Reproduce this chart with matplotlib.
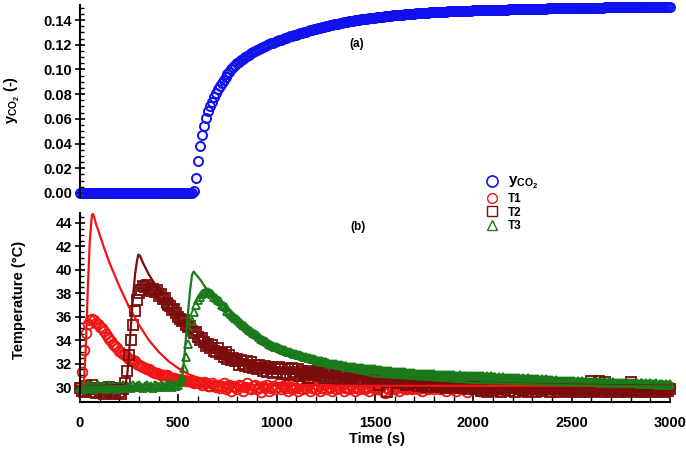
import numpy as np
import matplotlib
matplotlib.use('Agg')
import matplotlib.pyplot as plt
from matplotlib.ticker import MultipleLocator, FormatStrFormatter
from matplotlib.lines import Line2D

plt.rcParams['font.family'] = ['Liberation Sans', 'DejaVu Sans']
plt.rcParams['font.weight'] = 'bold'
plt.rcParams['mathtext.fontset'] = 'custom'
plt.rcParams['mathtext.rm'] = 'Liberation Sans:bold'
plt.rcParams['mathtext.it'] = 'Liberation Sans:bold'
plt.rcParams['mathtext.bf'] = 'Liberation Sans:bold'

# sampling every 10 s, 0..3000 s
t = np.arange(0, 3001, 10)

# ---- (a) outlet CO2 fraction ----
y_co2 = [0.0] * 58 + [
    .002, .012,
    .026, .038, .047, .054, .061, .066, .070, .074, .078, .081,
    .084, .0865, .089, .0915, .094, .096, .098, .100, .102, .1035,
    .1050, .1063, .1075, .1087, .1098, .1109, .1120, .1130, .1140, .1149,
    .1158, .1167, .1175, .1183, .1190, .1197, .1204, .1211, .1217, .1224,
    .1230, .1236, .1241, .1247, .1252, .1257, .1262, .1267, .1272, .1277,
    .1282, .1287, .1292, .1297, .1302, .1307, .1312, .1317, .1321, .1326,
    .1330, .1334, .1338, .1342, .1346, .1350, .1354, .1358, .1361, .1365,
    .1368, .1371, .1374, .1377, .1380, .1383, .1386, .1389, .1392, .1395,
    .1397, .1400, .1402, .1405, .1407, .1410, .1412, .1414, .1416, .1418,
    .1420, .1422, .1424, .1426, .1428, .1430, .1432, .1434, .1435, .1437,
    .1438, .1440, .1441, .1443, .1444, .1446, .1447, .1448, .1450, .1451,
    .1452, .1453, .1454, .1456, .1457, .1458, .1459, .1460, .1461, .1462,
    .1463, .1464, .1465, .1466, .1467, .1467, .1468, .1469, .1470, .1470,
    .1471, .1472, .1472, .1473, .1474, .1474, .1475, .1475, .1476, .1476,
    .1477, .1477, .1478, .1478, .1479, .1479, .1480, .1480, .1481, .1481,
    .1482, .1482, .1483, .1483, .1484, .1484, .1485, .1485, .1486, .1486,
    .1487, .1487, .1488, .1488, .1488, .1489, .1489, .1490, .1490, .1490,
    .1491, .1491, .1492, .1492, .1492, .1493, .1493, .1493, .1494, .1494,
    .1494, .1495, .1495, .1495, .1496, .1496, .1496, .1497, .1497, .1497,
    .1497, .1498, .1498, .1498, .1498, .1499, .1499, .1499, .1499, .1500,
    .1500, .1500, .1500, .1501, .1501, .1501, .1501, .1502, .1502, .1502,
    .1502, .1502, .1503, .1503, .1503, .1503, .1503, .1504, .1504, .1504,
    .1504, .1504, .1504, .1505, .1505, .1505, .1505, .1505, .1505, .1505,
    .1505, .1506, .1506, .1506, .1506, .1506, .1506, .1506, .1506, .1506,
    .1506]

# ---- (b) measured temperatures ----
T1 = [30.0, 31.3, 33.2, 34.6, 35.4, 35.7, 35.8, 35.7, 35.5, 35.4,
      35.1, 35.0, 34.8, 34.5, 34.3, 34.1, 33.9, 33.7, 33.5, 33.3,
      33.1, 33.0, 32.8, 32.7, 32.6, 32.4, 32.3, 32.3, 32.2, 32.0,
      31.9, 31.8, 31.7, 31.6, 31.5, 31.5, 31.4, 31.3, 31.2, 31.2,
      31.1, 31.0, 31.0, 31.0, 31.0, 30.9, 30.8, 30.8, 30.8, 30.7,
      30.7, 30.6, 30.6, 30.6, 30.5, 30.5, 30.5, 30.4, 30.3, 30.4,
      30.4, 30.3, 30.2, 30.4, 30.3, 30.1, 30.1, 30.3, 30.2, 30.0,
      30.2, 29.9, 30.1, 30.3, 29.8, 30.0, 30.2, 29.7, 30.1, 30.0,
      29.8, 30.2, 30.1, 29.7, 30.0, 30.3, 29.9, 29.8, 30.1, 30.2,
      29.8, 30.0, 29.6, 30.1, 29.9, 30.2, 29.7, 29.9, 30.1, 29.8,
      30.0, 30.3, 29.8, 30.1, 29.9, 30.2, 29.7, 30.0, 29.8, 30.1,
      29.9, 29.7, 30.2, 29.8, 30.0, 29.9, 30.1, 29.7, 29.9, 30.0,
      29.8, 30.1, 29.7, 29.9, 30.2, 29.8, 30.0, 29.9, 29.7, 30.1,
      29.8, 30.0, 29.9, 30.2, 29.7, 29.9, 30.0, 29.8, 30.1, 29.9,
      29.7, 30.0, 29.8, 30.1, 29.9, 29.8, 30.0, 29.7, 30.1, 29.9,
      30.0, 29.8, 29.9, 30.1, 29.7, 29.5, 29.9, 29.8, 30.1, 29.9,
      29.8, 30.0, 29.7, 30.0, 29.9, 30.1, 29.8, 29.9, 30.0, 29.8,
      29.9, 30.1, 29.8, 30.0, 29.7, 29.9, 30.0, 29.8, 29.9, 30.1,
      29.8, 30.0, 29.9, 29.8, 30.0, 29.9, 29.7, 30.1, 29.9, 29.8,
      30.0, 29.7, 29.9, 30.1, 29.8, 30.0, 29.9, 29.6, 30.0, 29.9,
      29.8, 30.1, 29.9, 29.7, 30.0, 29.8, 30.0, 29.9, 29.7, 30.1,
      29.9, 29.8, 30.0, 29.7, 29.9, 30.0, 29.8, 30.1, 29.9, 29.7,
      30.0, 29.8, 29.9, 30.1, 29.7, 29.9, 29.8, 30.0, 29.7, 29.9,
      30.0, 29.8, 29.9, 29.7, 30.1, 29.8, 29.9, 30.0, 29.7, 29.9,
      29.8, 30.0, 29.9, 29.7, 29.8, 30.0, 29.9, 29.8, 30.1, 29.7,
      29.9, 29.8, 30.0, 29.7, 29.9, 29.8, 30.0, 29.9, 29.7, 29.8,
      30.0, 29.9, 29.7, 29.8, 30.0, 29.8, 29.9, 29.7, 30.0, 29.8,
      29.9, 29.7, 29.8, 30.0, 29.9, 29.8, 29.7, 30.0, 29.8, 29.9,
      29.7, 29.9, 29.8, 30.0, 29.8, 29.9, 29.7, 29.8, 30.0, 29.9,
      29.8, 29.7, 29.9, 29.8, 30.0, 29.8, 29.9, 29.7, 29.9, 29.8,
      30.0]
T2 = [29.9, 29.7, 29.6, 30.1, 29.8, 29.9, 30.2, 29.6, 29.5, 29.8,
      29.7, 29.9, 29.4, 29.6, 29.8, 30.0, 29.5, 29.7, 29.4, 29.9,
      29.6, 29.4, 29.8, 30.3, 31.4, 32.7, 34.0, 35.3, 36.5, 37.4,
      38.0, 38.3, 38.6, 38.5, 38.7, 38.4, 38.2, 38.4, 38.1, 38.3,
      37.8, 37.9, 37.5, 37.6, 37.2, 37.0, 36.9, 36.6, 36.7, 36.3,
      36.0, 35.8, 35.6, 35.7, 35.3, 35.1, 35.2, 34.8, 34.6, 34.7,
      34.3, 34.0, 34.2, 33.8, 33.5, 33.7, 33.3, 33.6, 33.1, 33.0,
      33.3, 32.8, 32.9, 32.6, 33.0, 32.4, 32.7, 32.3, 32.5, 32.2,
      32.4, 31.9, 32.3, 32.0, 31.8, 32.2, 31.7, 32.1, 31.6, 31.9,
      31.5, 31.9, 31.6, 31.4, 31.8, 31.3, 31.7, 31.5, 31.2, 31.6,
      31.3, 31.7, 31.5, 31.1, 31.6, 31.2, 31.5, 31.0, 31.6, 31.3,
      31.1, 31.5, 30.9, 31.4, 31.1, 31.2, 30.8, 31.4, 31.0, 31.2,
      31.0, 31.4, 30.9, 31.2, 30.8, 31.3, 31.1, 30.9, 31.2, 30.8,
      31.1, 30.7, 31.2, 30.9, 31.0, 30.6, 31.1, 30.8, 30.9, 30.7,
      31.0, 30.6, 30.9, 30.7, 30.5, 31.0, 30.7, 30.8, 30.5, 30.9,
      30.6, 30.8, 30.2, 30.7, 30.5, 30.9, 29.6, 30.6, 30.4, 30.8,
      30.5, 30.7, 30.3, 30.6, 30.4, 30.8, 30.2, 30.5, 30.6, 30.3,
      30.6, 30.3, 30.1, 30.5, 30.2, 30.4, 30.0, 30.5, 30.3, 30.1,
      30.4, 30.2, 30.0, 30.5, 30.1, 30.3, 29.9, 30.4, 30.2, 30.0,
      30.3, 30.1, 30.4, 29.9, 30.2, 30.0, 30.3, 30.1, 29.8, 30.2,
      30.1, 29.8, 29.9, 30.2, 29.7, 30.0, 29.8, 29.6, 30.1, 29.9,
      29.7, 30.0, 29.8, 30.2, 29.6, 29.9, 29.8, 30.0, 29.7, 29.9,
      30.1, 29.6, 29.9, 29.8, 30.0, 29.7, 29.9, 30.1, 29.6, 29.8,
      29.9, 30.0, 29.6, 29.8, 30.1, 29.7, 29.9, 29.8, 30.0, 29.6,
      29.8, 29.9, 30.1, 29.6, 29.8, 29.9, 29.7, 30.0, 29.8, 29.6,
      29.9, 29.7, 30.0, 29.8, 29.6, 29.9, 29.7, 29.8, 30.0, 29.6,
      30.5, 29.8, 29.7, 29.9, 30.5, 29.6, 29.8, 30.4, 29.7, 29.9,
      29.6, 29.8, 29.7, 30.0, 29.6, 29.8, 29.9, 29.7, 29.6, 29.8,
      30.4, 29.7, 29.8, 29.6, 29.9, 29.7, 29.8, 29.6, 29.7, 29.9,
      29.6, 29.8, 29.7, 29.9, 29.6, 29.7, 29.8, 29.6, 29.8, 29.7,
      29.8]
T3 = [29.9, 30.1, 29.8, 30.0, 30.2, 29.9, 30.1, 29.8, 30.0, 30.2,
      30.0, 29.9, 30.1, 29.8, 30.0, 30.2, 29.9, 30.1, 30.0, 29.8,
      30.1, 30.0, 30.2, 29.9, 30.1, 30.0, 29.9, 30.2, 30.0, 30.1,
      30.2, 30.0, 29.9, 30.1, 30.2, 30.0, 30.1, 29.9, 30.2, 30.1,
      30.0, 30.2, 30.1, 30.0, 30.2, 30.1, 30.3, 30.0, 30.2, 30.1,
      30.2, 30.4, 30.8, 31.6, 32.6, 33.7, 34.7, 35.6, 36.4, 37.0,
      37.4, 37.7, 37.9, 38.0, 38.1, 38.1, 38.0, 37.9, 37.7, 37.6,
      37.4, 37.3, 37.0, 36.9, 36.8, 36.5, 36.4, 36.2, 36.1, 35.9,
      35.8, 35.6, 35.5, 35.3, 35.2, 35.0, 34.9, 34.8, 34.6, 34.5,
      34.4, 34.3, 34.1, 34.0, 33.9, 33.8, 33.7, 33.6, 33.5, 33.45,
      33.4, 33.3, 33.25, 33.2, 33.15, 33.1, 33.0, 32.95, 32.9, 32.85,
      32.8, 32.75, 32.7, 32.65, 32.6, 32.55, 32.5, 32.45, 32.4, 32.35,
      32.3, 32.25, 32.2, 32.2, 32.15, 32.1, 32.05, 32.0, 32.0, 31.95,
      31.95, 31.9, 31.9, 31.85, 31.8, 31.8, 31.75, 31.75, 31.7, 31.7,
      31.7, 31.65, 31.65, 31.6, 31.6, 31.55, 31.55, 31.55, 31.5, 31.5,
      31.5, 31.45, 31.45, 31.45, 31.4, 31.4, 31.4, 31.35, 31.35, 31.3,
      31.3, 31.3, 31.3, 31.25, 31.25, 31.25, 31.2, 31.2, 31.2, 31.2,
      31.2, 31.15, 31.15, 31.15, 31.15, 31.1, 31.1, 31.1, 31.1, 31.1,
      31.1, 31.05, 31.05, 31.05, 31.05, 31.0, 31.0, 31.0, 31.0, 31.0,
      31.0, 30.95, 30.95, 31.0, 30.95, 30.95, 30.9, 30.95, 30.9, 30.95,
      30.95, 30.9, 30.9, 30.95, 30.9, 30.9, 30.85, 30.9, 30.85, 30.9,
      30.85, 30.85, 30.8, 30.85, 30.8, 30.85, 30.8, 30.8, 30.75, 30.8,
      30.8, 30.75, 30.75, 30.8, 30.7, 30.75, 30.7, 30.7, 30.75, 30.65,
      30.7, 30.65, 30.7, 30.65, 30.6, 30.65, 30.6, 30.65, 30.6, 30.6,
      30.6, 30.55, 30.6, 30.55, 30.55, 30.5, 30.55, 30.5, 30.55, 30.5,
      30.5, 30.5, 30.45, 30.5, 30.45, 30.5, 30.45, 30.45, 30.4, 30.45,
      30.4, 30.45, 30.4, 30.4, 30.45, 30.35, 30.4, 30.4, 30.35, 30.4,
      30.35, 30.4, 30.35, 30.35, 30.3, 30.35, 30.35, 30.3, 30.35, 30.3,
      30.3, 30.35, 30.3, 30.3, 30.25, 30.3, 30.3, 30.25, 30.3, 30.25,
      30.3, 30.25, 30.25, 30.3, 30.2, 30.25, 30.25, 30.2, 30.25, 30.2,
      30.25]

# ---- (b) model temperatures ----
tm1 = [0, 10, 20, 30, 40, 50, 60, 65, 70, 80, 100, 120, 150, 200, 250, 300,
       350, 400, 450, 500, 550, 600, 650, 700, 800, 1000, 1500, 2000, 3000]
Tm1 = [30.0, 30.0, 30.3, 33.5, 38.5, 42.5, 44.6, 44.8, 44.6, 44.0, 43.0,
       42.0, 40.6, 38.6, 36.8, 35.3, 34.0, 33.0, 32.2, 31.6, 31.1, 30.8,
       30.5, 30.35, 30.2, 30.15, 30.1, 30.1, 30.1]
tm2 = [0, 230, 240, 250, 260, 270, 280, 290, 297, 305, 320, 350, 400, 450,
       500, 550, 600, 650, 700, 800, 900, 1000, 1200, 1500, 2000, 2500, 3000]
Tm2 = [30.0, 30.2, 31.0, 33.0, 35.5, 37.8, 39.6, 40.8, 41.3, 41.2, 40.6,
       39.6, 38.3, 36.9, 35.8, 34.8, 34.1, 33.6, 33.1, 32.5, 32.1, 31.7,
       31.2, 30.7, 30.35, 30.2, 30.1]
tm3 = [0, 510, 520, 530, 540, 550, 560, 570, 578, 590, 610, 630, 650, 700,
       750, 800, 900, 1000, 1200, 1500, 2000, 2500, 3000]
Tm3 = [30.0, 30.2, 30.8, 32.5, 34.5, 36.5, 38.3, 39.6, 39.85, 39.6, 39.2,
       38.7, 38.2, 37.1, 36.2, 35.4, 34.2, 33.2, 31.9, 30.9, 30.35, 30.15,
       30.05]

c_blue = '#1010f0'
c_red = '#f01414'
c_dark = '#7a0c0c'
c_green = '#1a7a1a'

fig = plt.figure(figsize=(6.86, 4.51), dpi=100)
ax1 = fig.add_axes([0.1166, 0.5639, 0.8601, 0.4246])
ax2 = fig.add_axes([0.1166, 0.1237, 0.8601, 0.404])

ax1.plot(t, y_co2, 'o', mfc='none', mec=c_blue, ms=6.5, mew=1.4, clip_on=False)
ax1.set_xlim(0, 3000)
ax1.set_ylim(-0.003, 0.152)
for s in ['top', 'right', 'bottom']:
    ax1.spines[s].set_visible(False)
ax1.set_xticks([])
ax1.yaxis.set_major_locator(MultipleLocator(0.02))
ax1.yaxis.set_minor_locator(MultipleLocator(0.005))
ax1.yaxis.set_major_formatter(FormatStrFormatter('%.2f'))

ax2.plot(t, T1, 'o', mfc='none', mec=c_red, ms=7, mew=1.3, clip_on=False)
ax2.plot(t, T2, 's', mfc='none', mec=c_dark, ms=6.5, mew=1.3, clip_on=False)
ax2.plot(t, T3, '^', mfc='none', mec=c_green, ms=6, mew=1.3, clip_on=False)
ax2.plot(tm1, Tm1, '-', color=c_red, lw=1.6)
ax2.plot(tm2, Tm2, '-', color=c_dark, lw=1.6)
ax2.plot(tm3, Tm3, '-', color=c_green, lw=1.6)
ax2.set_xlim(0, 3000)
ax2.set_ylim(29.3, 44.85)
for s in ['top', 'right']:
    ax2.spines[s].set_visible(False)
ax2.spines['bottom'].set_position(('outward', 5))
ax2.yaxis.set_major_locator(MultipleLocator(2))
ax2.yaxis.set_minor_locator(MultipleLocator(0.5))
ax2.xaxis.set_major_locator(MultipleLocator(500))
ax2.xaxis.set_minor_locator(MultipleLocator(100))

for ax in (ax1, ax2):
    ax.spines['left'].set_linewidth(1.5)
    ax.tick_params(axis='y', which='major', direction='inout', length=7,
                   width=1.2, labelsize=10.5, pad=2)
    ax.tick_params(axis='y', which='minor', direction='in', length=3, width=1)
ax2.spines['bottom'].set_linewidth(1.5)
ax2.tick_params(axis='x', which='major', direction='in', length=6, width=1.2,
                labelsize=10.5, pad=10)
ax2.tick_params(axis='x', which='minor', direction='in', length=4, width=1)

fig.text(12 / 686, 1 - 100 / 451, r'$y_{CO_2}$ (-)', rotation=90,
         ha='center', va='center', fontsize=10.5, fontweight='bold')
fig.text(19 / 686, 1 - 300 / 451, 'Temperature (°C)', rotation=90,
         ha='center', va='center', fontsize=10.5, fontweight='bold')
fig.text(377 / 686, 1 - 439 / 451, 'Time (s)', ha='center', va='center',
         fontsize=10.5, fontweight='bold')
fig.text(357 / 686, 1 - 44 / 451, '(a)', ha='center', va='center',
         fontsize=8.5, fontweight='bold')
fig.text(358 / 686, 1 - 227 / 451, '(b)', ha='center', va='center',
         fontsize=8.5, fontweight='bold')

handles = [
    Line2D([], [], ls='none', marker='o', mfc='none', mec=c_blue, ms=8, mew=1.2),
    Line2D([], [], ls='none', marker='o', mfc='none', mec=c_red, ms=7, mew=1.0),
    Line2D([], [], ls='none', marker='s', mfc='none', mec=c_dark, ms=7, mew=1.0),
    Line2D([], [], ls='none', marker='^', mfc='none', mec=c_green, ms=7, mew=1.0),
]
labels = [r'$y_{CO_2}$', 'T1', 'T2', 'T3']
leg = fig.legend(handles, labels, loc='upper left',
                 bbox_to_anchor=(480 / 686, 1 - 168 / 451), frameon=False,
                 handlelength=1.0, handletextpad=0.9, labelspacing=0.15,
                 borderpad=0, prop={'weight': 'bold', 'size': 8.5})
leg.get_texts()[0].set_fontsize(11)

fig.savefig('out.png', dpi=100)
